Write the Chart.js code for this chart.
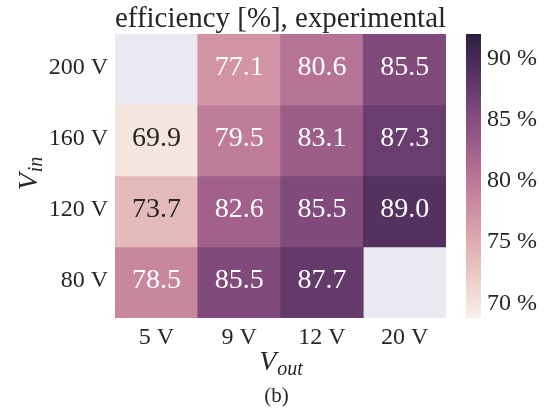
<!DOCTYPE html>
<html>
<head>
<meta charset="utf-8">
<script src="https://cdn.jsdelivr.net/npm/chart.js@4.4.1/dist/chart.umd.min.js"></script>
<style>
  html, body { margin: 0; padding: 0; background: #ffffff; }
  #wrap { position: relative; width: 549px; height: 410px; }
  #wrap canvas { position: absolute; left: 0; top: 0; }
</style>
</head>
<body>
<div id="wrap">
  <canvas id="heat" width="549" height="410"></canvas>
  <canvas id="cbar" width="549" height="410"></canvas>
</div>
<script>
// Output voltages (columns) and input voltages (rows, top to bottom)
const vout = ['5 V', '9 V', '12 V', '20 V'];
const vin = ['200 V', '160 V', '120 V', '80 V'];

// Measured efficiency in %, one array per input voltage (null = not measured)
const eff200 = [null, 77.1, 80.6, 85.5];
const eff160 = [69.9, 79.5, 83.1, 87.3];
const eff120 = [73.7, 82.6, 85.5, 89.0];
const eff80  = [78.5, 85.5, 87.7, null];
const rows = [eff200, eff160, eff120, eff80];

// Colour scale limits and colorbar ticks
const vmin = 68.8;
const vmax = 92.0;
const cbTicks = [70, 75, 80, 85, 90];

const SERIF = "'Liberation Serif', 'Times New Roman', Times, serif";
const INK = '#262626';

// Cubehelix colour map (light pink -> dark purple)
function cubehelix(t) {
  const light = 0.95, dark = 0.15, start = 0, rot = 0.4, hue = 0.8, gamma = 1;
  t = Math.min(1, Math.max(0, t));
  const x = light + (dark - light) * t;
  const xg = Math.pow(x, gamma);
  const a = hue * xg * (1 - xg) / 2;
  const phi = 2 * Math.PI * (start / 3 + rot * x);
  const c = Math.cos(phi), s = Math.sin(phi);
  const r = xg + a * (-0.14861 * c + 1.78277 * s);
  const g = xg + a * (-0.29227 * c - 0.90649 * s);
  const b = xg + a * (1.97294 * c);
  return [r, g, b].map(v => Math.min(1, Math.max(0, v)));
}
function valueRGB(v) { return cubehelix((v - vmin) / (vmax - vmin)); }
function toCss(rgb) { return 'rgb(' + rgb.map(v => Math.round(v * 255)).join(',') + ')'; }
function luminance(rgb) {
  const lin = rgb.map(v => v <= 0.03928 ? v / 12.92 : Math.pow((v + 0.055) / 1.055, 2.4));
  return 0.2126 * lin[0] + 0.7152 * lin[1] + 0.0722 * lin[2];
}

// One dataset per input voltage; each cell is a floating bar spanning its row
const datasets = rows.map((vals, r) => ({
  label: vin[r],
  data: vals.map(v => v === null ? null : [3 - r, 4 - r]),
  values: vals,
  backgroundColor: vals.map(v => v === null ? 'rgba(0,0,0,0)' : toCss(valueRGB(v))),
  borderWidth: 0,
  barPercentage: 1,
  categoryPercentage: 1,
  grouped: false
}));

const heatPlugin = {
  id: 'heatDecor',
  beforeDraw(chart) {
    const { ctx, chartArea: a } = chart;
    ctx.save();
    ctx.fillStyle = '#eaeaf2';
    ctx.fillRect(a.left, a.top, a.right - a.left, a.bottom - a.top);
    ctx.restore();
  },
  afterDatasetsDraw(chart) {
    const ctx = chart.ctx;
    ctx.save();
    ctx.font = '28px ' + SERIF;
    ctx.textAlign = 'center';
    ctx.textBaseline = 'middle';
    chart.data.datasets.forEach((ds, i) => {
      const meta = chart.getDatasetMeta(i);
      meta.data.forEach((el, j) => {
        const v = ds.values[j];
        if (v === null) return;
        ctx.fillStyle = luminance(valueRGB(v)) > 0.408 ? INK : '#ffffff';
        ctx.fillText(v.toFixed(1), el.x, (el.y + el.base) / 2 - 2);
      });
    });
    ctx.restore();
  },
  afterDraw(chart) {
    const { ctx, chartArea: a } = chart;
    const drawSub = (main, sub, cx, baseY) => {
      ctx.font = 'italic 28px ' + SERIF;
      const w1 = ctx.measureText(main).width;
      ctx.font = 'italic 20px ' + SERIF;
      const w2 = ctx.measureText(sub).width;
      const x0 = cx - (w1 + w2) / 2;
      ctx.textAlign = 'left';
      ctx.textBaseline = 'alphabetic';
      ctx.font = 'italic 28px ' + SERIF;
      ctx.fillText(main, x0, baseY);
      ctx.font = 'italic 20px ' + SERIF;
      ctx.fillText(sub, x0 + w1 + 1, baseY + 5);
    };
    ctx.save();
    ctx.fillStyle = INK;
    // x axis label
    drawSub('V', 'out', (a.left + a.right) / 2, 370);
    // y axis label (rotated)
    ctx.save();
    ctx.translate(37, (a.top + a.bottom) / 2 - 2);
    ctx.rotate(-Math.PI / 2);
    drawSub('V', 'in', 0, 0);
    ctx.restore();
    // caption
    ctx.font = '21px ' + SERIF;
    ctx.textAlign = 'center';
    ctx.textBaseline = 'middle';
    ctx.fillText('(b)', 276.5, 396);
    ctx.restore();
  }
};

new Chart(document.getElementById('heat'), {
  type: 'bar',
  data: { labels: vout, datasets },
  options: {
    responsive: false,
    animation: false,
    layout: { padding: { left: 0, right: 103, top: 0, bottom: 0 } },
    plugins: {
      legend: { display: false },
      tooltip: { enabled: false },
      title: {
        display: true,
        fullSize: false,
        text: 'efficiency [%], experimental',
        color: INK,
        font: { family: SERIF, size: 29.5, weight: 'normal', lineHeight: 1 },
        padding: { top: 4.5, bottom: 0 }
      }
    },
    scales: {
      x: {
        type: 'category',
        grid: { display: false, drawTicks: false },
        border: { display: false },
        ticks: { color: INK, font: { family: SERIF, size: 24 }, padding: 5, maxRotation: 0 },
        afterFit(scale) { scale.height = 92; }
      },
      y: {
        type: 'linear',
        min: 0,
        max: 4,
        grid: { display: false, drawTicks: false },
        border: { display: false },
        afterBuildTicks(scale) { scale.ticks = [0.5, 1.5, 2.5, 3.5].map(v => ({ value: v })); },
        ticks: {
          color: INK,
          font: { family: SERIF, size: 24 },
          padding: 7,
          labelOffset: -2,
          callback: (v) => vin[3 - Math.floor(v)]
        },
        afterFit(scale) { scale.width = 115; }
      }
    }
  },
  plugins: [heatPlugin]
});

// Colorbar: a single floating bar from vmin to vmax filled with the colour map
function cbarFill(context) {
  const chart = context.chart;
  const area = chart.chartArea;
  if (!area) return 'rgba(0,0,0,0)';
  const ys = chart.scales.y;
  const g = chart.ctx.createLinearGradient(0, ys.getPixelForValue(vmin), 0, ys.getPixelForValue(vmax));
  const n = 64;
  for (let i = 0; i <= n; i++) g.addColorStop(i / n, toCss(cubehelix(i / n)));
  return g;
}

new Chart(document.getElementById('cbar'), {
  type: 'bar',
  data: {
    labels: ['efficiency'],
    datasets: [{
      data: [[vmin, vmax]],
      backgroundColor: cbarFill,
      borderWidth: 0,
      barPercentage: 1,
      categoryPercentage: 1
    }]
  },
  options: {
    responsive: false,
    animation: false,
    layout: { padding: { left: 466, right: 0, top: 34, bottom: 92 } },
    plugins: { legend: { display: false }, tooltip: { enabled: false } },
    scales: {
      x: { display: false },
      y: {
        type: 'linear',
        position: 'right',
        min: vmin,
        max: vmax,
        grid: { display: false, drawTicks: false },
        border: { display: false },
        afterBuildTicks(scale) { scale.ticks = cbTicks.map(v => ({ value: v })); },
        ticks: {
          color: INK,
          font: { family: SERIF, size: 24 },
          padding: 6,
          callback: (v) => v + ' %'
        },
        afterFit(scale) { scale.width = 68; }
      }
    }
  }
});
</script>
</body>
</html>
